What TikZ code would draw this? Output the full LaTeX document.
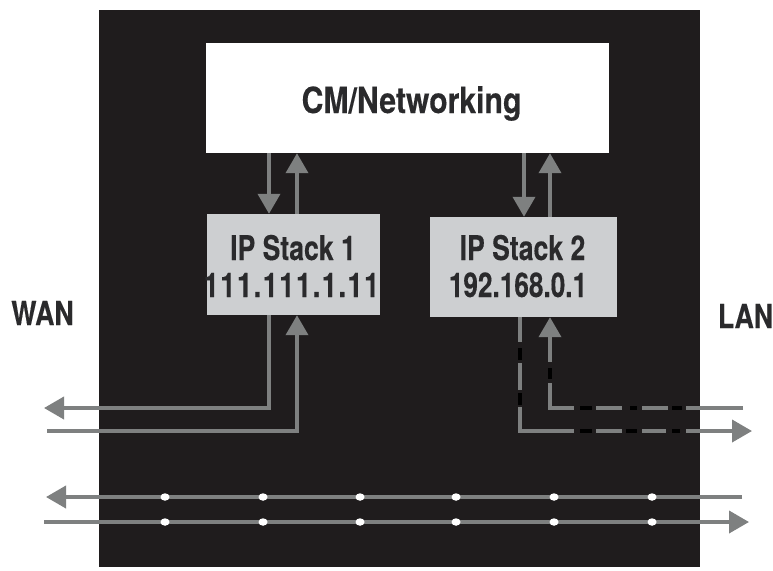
\documentclass[tikz,border=0pt]{standalone}
\usepackage{fontspec}
\setmainfont{TeX Gyre Heros}
\newfontfamily\labA[FakeStretch=0.78,BoldFeatures={FakeBold=0.25}]{TeX Gyre Heros}
\newfontfamily\labB[FakeStretch=0.80,LetterSpace=4.5,BoldFeatures={FakeBold=0.25}]{TeX Gyre Heros}
\newfontfamily\labC[FakeStretch=0.77,BoldFeatures={FakeBold=0.25}]{TeX Gyre Heros}
\newfontfamily\labD[FakeStretch=0.838,BoldFeatures={FakeBold=0.25}]{TeX Gyre Heros}
\newfontfamily\labE[FakeStretch=0.81,BoldFeatures={FakeBold=0.25}]{TeX Gyre Heros}
\usetikzlibrary{arrows.meta,shapes.geometric}
\definecolor{bgk}{HTML}{1F1C1D}
\definecolor{gline}{HTML}{7E8080}
\definecolor{gbox}{HTML}{CDCFD1}
\definecolor{txt}{HTML}{2A2A2C}
\tikzset{
  x=1pt,y=-1pt,
  wire/.style={draw=gline,line width=3.8pt,line join=miter},
  arr/.style={wire,-{Triangle[width=22pt,length=20pt]}},
  lbl/.style={inner sep=0pt,text=txt,anchor=base},
  gapseg/.style={draw=bgk,line width=5pt},
  blob/.style={draw=black,line width=4.5pt},
  dot/.style={fill=white,draw=none,inner sep=0pt,minimum width=9pt,minimum height=7.5pt,ellipse},
}
\begin{document}
\begin{tikzpicture}
\useasboundingbox (0,0) rectangle (773,570);
\fill[white] (0,0) rectangle (773,570);
\fill[bgk] (99,10) rectangle (700,567);
\node[fill=white,inner sep=0pt,minimum width=403pt,minimum height=110pt] (cm) at (407.5,98) {};
\node[lbl] (cmt) at (411.5,113) {\fontsize{36}{36}\labD\bfseries CM/Networking};
\node[fill=gbox,inner sep=0pt,minimum width=173pt,minimum height=101pt] (s1) at (293,264.5) {};
\node[fill=gbox,inner sep=0pt,minimum width=187pt,minimum height=100pt] (s2) at (523.5,267) {};
\node[lbl] (s1a) at (293,260) {\fontsize{34}{34}\labA\bfseries IP Stack 1};
\node[lbl] (s1b) at (291.5,297) {\fontsize{34}{34}\labB\bfseries 111.111.1.11};
\node[lbl] (s2a) at (522.5,260) {\fontsize{34}{34}\labA\bfseries IP Stack 2};
\node[lbl] (s2b) at (518,297) {\fontsize{34}{34}\labC\bfseries 192.168.0.1};
\node[lbl] (wan) at (42.5,325) {\fontsize{33}{33}\labE\bfseries WAN};
\node[lbl] (lan) at (745.5,328) {\fontsize{33}{33}\labE\bfseries LAN};
% column coordinates
\coordinate (a1) at (269,0);
\coordinate (a2) at (297,0);
\coordinate (b1) at (524,0);
\coordinate (b2) at (550,0);
\coordinate (c1) at (520,0);
% CM <-> stacks
\draw[arr] (cm.south -| a1) -- (s1.north -| a1);
\draw[arr] (s1.north -| a2) -- (cm.south -| a2);
\draw[arr] (cm.south -| b1) -- (s2.north -| b1);
\draw[arr] (s2.north -| b2) -- (cm.south -| b2);
% WAN wires
\coordinate (wanL) at (44,408);
\coordinate (wanR) at (47,431);
\draw[arr] (s1.south -| a1) |- (wanL);
\draw[arr] (wanR) -| (s1.south -| a2);
% LAN wires
\coordinate (lanR) at (743,408);
\coordinate (lanO) at (752,431);
\draw[arr] (lanR) -| (s2.south -| b2);
\draw[arr] (s2.south -| c1) |- (lanO);
% breaks in the LAN wires
\foreach \y/\a/\b/\c/\d in {408/574/580/592/596, 408/622/630/637/642, 408/668/672/682/686, 431/574/580/592/596, 431/622/626/637/642, 431/666/672/680/686}{
  \draw[gapseg] (\a,\y) -- (\d,\y);
  \draw[blob] (\b,\y) -- (\c,\y);
}
\draw[gapseg] (520,342) -- (520,363);
\draw[blob] (520,348) -- (520,360);
\draw[gapseg] (520,390) -- (520,407);
\draw[blob] (520,393) -- (520,405);
\draw[gapseg] (550,362) -- (550,383);
\draw[blob] (550,368) -- (550,379);
% bus lines
\coordinate (busAR) at (742,497);
\coordinate (busAL) at (46,497);
\coordinate (busBL) at (44,522);
\coordinate (busBR) at (749,522);
\draw[arr] (busAR) -- (busAL);
\draw[arr] (busBL) -- (busBR);
\foreach \x in {165,263,360,456,554,652}{
  \node[dot] at (\x,497) {};
  \node[dot] at (\x,522) {};
}
\end{tikzpicture}
\end{document}
